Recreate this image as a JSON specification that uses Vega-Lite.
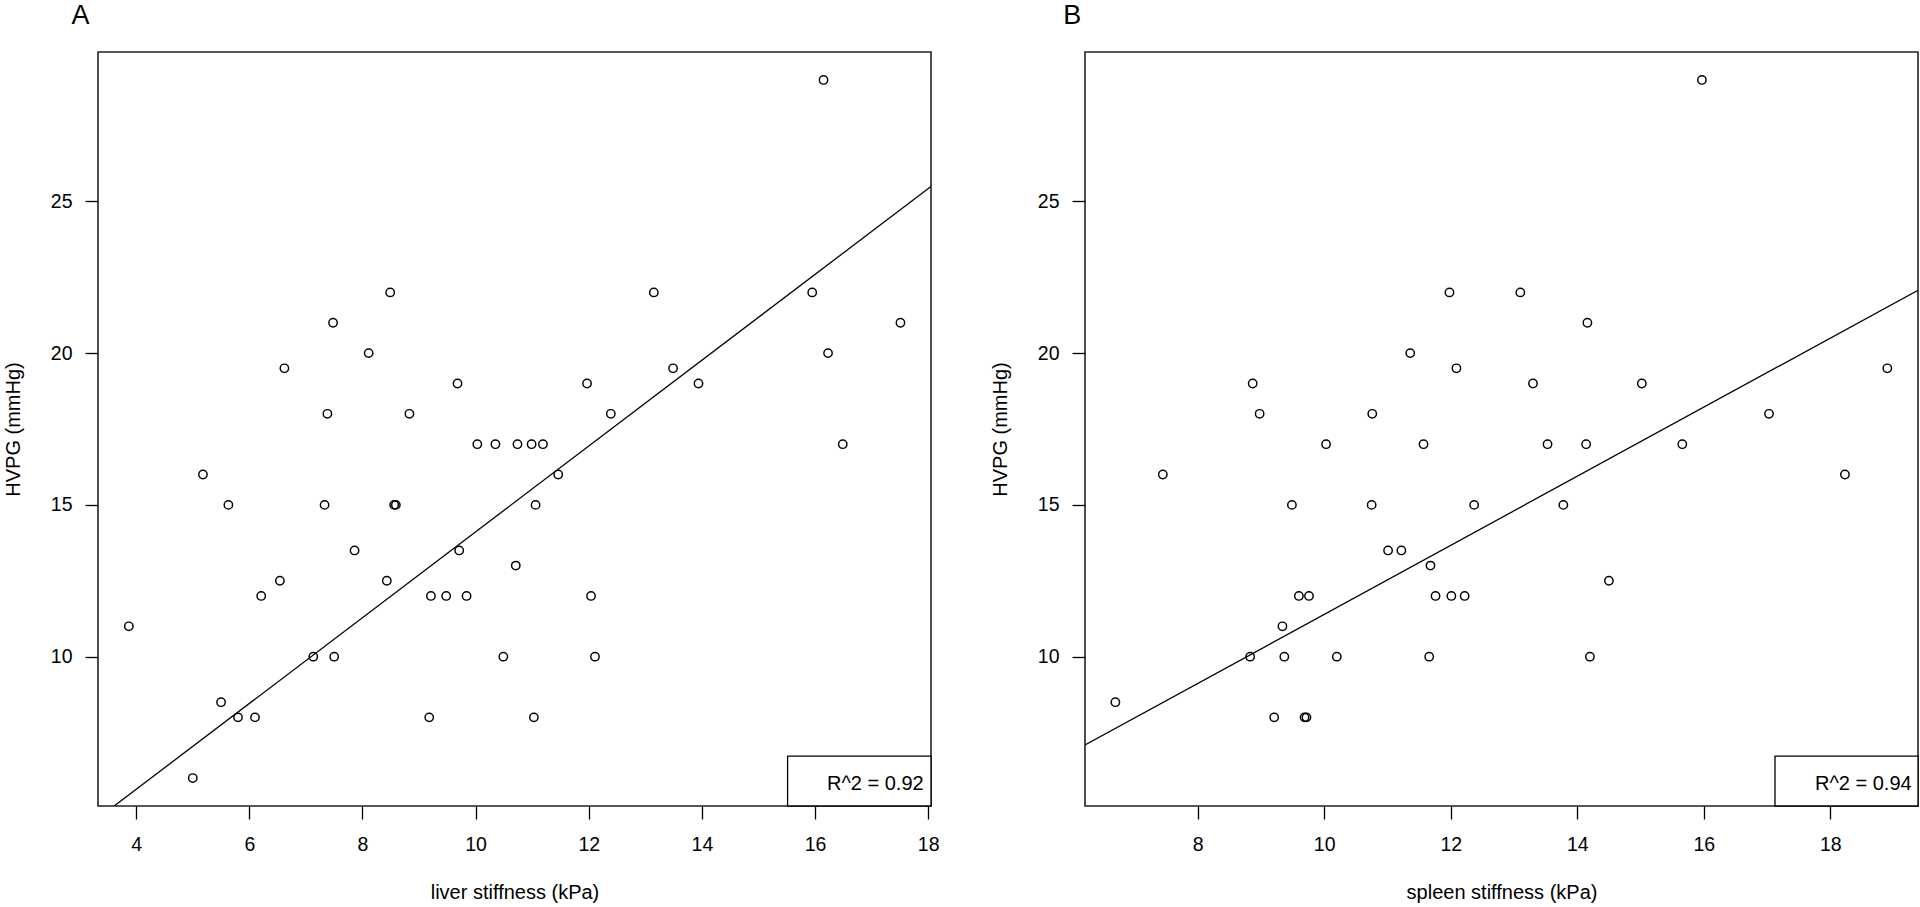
{
  "$schema": "https://vega.github.io/schema/vega-lite/v6.json",
  "background": "white",
  "autosize": {"type": "pad"},
  "padding": {"left": 2, "top": 1, "right": 0, "bottom": 0},
  "datasets": {
    "liver": [
      {"stiffness": 16.15, "hvpg": 29}, {"stiffness": 8.49, "hvpg": 22}, {"stiffness": 13.15, "hvpg": 22},
      {"stiffness": 15.95, "hvpg": 22}, {"stiffness": 7.48, "hvpg": 21}, {"stiffness": 17.51, "hvpg": 21},
      {"stiffness": 8.11, "hvpg": 20}, {"stiffness": 16.23, "hvpg": 20}, {"stiffness": 6.62, "hvpg": 19.5},
      {"stiffness": 13.49, "hvpg": 19.5}, {"stiffness": 9.68, "hvpg": 19}, {"stiffness": 11.97, "hvpg": 19},
      {"stiffness": 13.94, "hvpg": 19}, {"stiffness": 7.38, "hvpg": 18}, {"stiffness": 8.83, "hvpg": 18},
      {"stiffness": 12.39, "hvpg": 18}, {"stiffness": 10.03, "hvpg": 17}, {"stiffness": 10.35, "hvpg": 17},
      {"stiffness": 10.74, "hvpg": 17}, {"stiffness": 10.99, "hvpg": 17}, {"stiffness": 11.19, "hvpg": 17},
      {"stiffness": 16.49, "hvpg": 17}, {"stiffness": 5.18, "hvpg": 16}, {"stiffness": 11.46, "hvpg": 16},
      {"stiffness": 5.63, "hvpg": 15}, {"stiffness": 7.33, "hvpg": 15}, {"stiffness": 8.56, "hvpg": 15},
      {"stiffness": 8.59, "hvpg": 15}, {"stiffness": 11.06, "hvpg": 15}, {"stiffness": 7.86, "hvpg": 13.5},
      {"stiffness": 9.71, "hvpg": 13.5}, {"stiffness": 10.71, "hvpg": 13}, {"stiffness": 6.54, "hvpg": 12.5},
      {"stiffness": 8.43, "hvpg": 12.5}, {"stiffness": 6.21, "hvpg": 12}, {"stiffness": 9.21, "hvpg": 12},
      {"stiffness": 9.48, "hvpg": 12}, {"stiffness": 9.84, "hvpg": 12}, {"stiffness": 12.04, "hvpg": 12},
      {"stiffness": 3.87, "hvpg": 11}, {"stiffness": 7.13, "hvpg": 10}, {"stiffness": 7.5, "hvpg": 10},
      {"stiffness": 10.49, "hvpg": 10}, {"stiffness": 12.11, "hvpg": 10}, {"stiffness": 5.5, "hvpg": 8.5},
      {"stiffness": 5.8, "hvpg": 8}, {"stiffness": 6.1, "hvpg": 8}, {"stiffness": 9.18, "hvpg": 8},
      {"stiffness": 11.03, "hvpg": 8}, {"stiffness": 5.0, "hvpg": 6}
    ],
    "spleen": [
      {"stiffness": 15.97, "hvpg": 29}, {"stiffness": 11.98, "hvpg": 22}, {"stiffness": 13.1, "hvpg": 22},
      {"stiffness": 14.16, "hvpg": 21}, {"stiffness": 11.36, "hvpg": 20}, {"stiffness": 12.09, "hvpg": 19.5},
      {"stiffness": 18.9, "hvpg": 19.5}, {"stiffness": 8.87, "hvpg": 19}, {"stiffness": 13.3, "hvpg": 19},
      {"stiffness": 15.02, "hvpg": 19}, {"stiffness": 8.98, "hvpg": 18}, {"stiffness": 10.76, "hvpg": 18},
      {"stiffness": 17.03, "hvpg": 18}, {"stiffness": 10.03, "hvpg": 17}, {"stiffness": 11.57, "hvpg": 17},
      {"stiffness": 13.53, "hvpg": 17}, {"stiffness": 14.14, "hvpg": 17}, {"stiffness": 15.66, "hvpg": 17},
      {"stiffness": 7.45, "hvpg": 16}, {"stiffness": 18.23, "hvpg": 16}, {"stiffness": 9.49, "hvpg": 15},
      {"stiffness": 10.75, "hvpg": 15}, {"stiffness": 12.37, "hvpg": 15}, {"stiffness": 13.78, "hvpg": 15},
      {"stiffness": 11.01, "hvpg": 13.5}, {"stiffness": 11.22, "hvpg": 13.5}, {"stiffness": 11.68, "hvpg": 13},
      {"stiffness": 14.5, "hvpg": 12.5}, {"stiffness": 9.6, "hvpg": 12}, {"stiffness": 9.76, "hvpg": 12},
      {"stiffness": 11.76, "hvpg": 12}, {"stiffness": 12.01, "hvpg": 12}, {"stiffness": 12.22, "hvpg": 12},
      {"stiffness": 9.34, "hvpg": 11}, {"stiffness": 8.83, "hvpg": 10}, {"stiffness": 9.37, "hvpg": 10},
      {"stiffness": 10.2, "hvpg": 10}, {"stiffness": 11.66, "hvpg": 10}, {"stiffness": 14.2, "hvpg": 10},
      {"stiffness": 6.7, "hvpg": 8.5}, {"stiffness": 9.21, "hvpg": 8}, {"stiffness": 9.69, "hvpg": 8},
      {"stiffness": 9.72, "hvpg": 8}
    ],
    "liverFit": [{"stiffness": 3.325, "hvpg": 4.676}, {"stiffness": 18.05, "hvpg": 25.49}],
    "spleenFit": [{"stiffness": 6.22, "hvpg": 7.09}, {"stiffness": 19.385, "hvpg": 22.07}],
    "liverLegend": [{"stiffness": 15.515, "stiffness_end": 18.05, "hvpg": 5.08, "hvpg_end": 6.72, "label_x": 17.92, "label_y": 5.82, "label": "R^2 = 0.92"}],
    "spleenLegend": [{"stiffness": 17.125, "stiffness_end": 19.385, "hvpg": 5.08, "hvpg_end": 6.72, "label_x": 19.285, "label_y": 5.82, "label": "R^2 = 0.94"}]
  },
  "spacing": 154,
  "bounds": "flush",
  "hconcat": [
    {
      "width": 833,
      "height": 754,
      "title": {"text": "A", "dx": -26.5},
      "layer": [
        {
          "data": {"name": "liver"},
          "mark": {"type": "point", "shape": "circle", "filled": false, "color": "black", "size": 70, "strokeWidth": 1.45, "opacity": 1},
          "encoding": {
            "x": {"field": "stiffness", "type": "quantitative", "title": "liver stiffness (kPa)",
                  "scale": {"domain": [3.325, 18.05], "nice": false, "zero": false},
                  "axis": {"values": [4, 6, 8, 10, 12, 14, 16, 18], "format": "d"}},
            "y": {"field": "hvpg", "type": "quantitative", "title": "HVPG (mmHg)",
                  "scale": {"domain": [5.08, 29.92], "nice": false, "zero": false},
                  "axis": {"values": [10, 15, 20, 25], "format": "d"}}
          }
        },
        {
          "data": {"name": "liverFit"},
          "mark": {"type": "line", "color": "black", "strokeWidth": 1.3, "clip": true},
          "encoding": {
            "x": {"field": "stiffness", "type": "quantitative", "title": "liver stiffness (kPa)"},
            "y": {"field": "hvpg", "type": "quantitative", "title": "HVPG (mmHg)"}
          }
        },
        {
          "data": {"name": "liverLegend"},
          "mark": {"type": "rect", "fill": "white", "stroke": "black", "strokeWidth": 1.3},
          "encoding": {
            "x": {"field": "stiffness", "type": "quantitative", "title": "liver stiffness (kPa)"},
            "x2": {"field": "stiffness_end"},
            "y": {"field": "hvpg", "type": "quantitative", "title": "HVPG (mmHg)"},
            "y2": {"field": "hvpg_end"}
          }
        },
        {
          "data": {"name": "liverLegend"},
          "mark": {"type": "text", "align": "right", "baseline": "middle", "fontSize": 20, "color": "black"},
          "encoding": {
            "x": {"field": "label_x", "type": "quantitative", "title": "liver stiffness (kPa)"},
            "y": {"field": "label_y", "type": "quantitative", "title": "HVPG (mmHg)"},
            "text": {"field": "label"}
          }
        }
      ]
    },
    {
      "width": 833,
      "height": 754,
      "title": {"text": "B", "dx": -21.8},
      "layer": [
        {
          "data": {"name": "spleen"},
          "mark": {"type": "point", "shape": "circle", "filled": false, "color": "black", "size": 70, "strokeWidth": 1.45, "opacity": 1},
          "encoding": {
            "x": {"field": "stiffness", "type": "quantitative", "title": "spleen stiffness (kPa)",
                  "scale": {"domain": [6.22, 19.385], "nice": false, "zero": false},
                  "axis": {"values": [8, 10, 12, 14, 16, 18], "format": "d"}},
            "y": {"field": "hvpg", "type": "quantitative", "title": "HVPG (mmHg)",
                  "scale": {"domain": [5.08, 29.92], "nice": false, "zero": false},
                  "axis": {"values": [10, 15, 20, 25], "format": "d"}}
          }
        },
        {
          "data": {"name": "spleenFit"},
          "mark": {"type": "line", "color": "black", "strokeWidth": 1.3, "clip": true},
          "encoding": {
            "x": {"field": "stiffness", "type": "quantitative", "title": "spleen stiffness (kPa)"},
            "y": {"field": "hvpg", "type": "quantitative", "title": "HVPG (mmHg)"}
          }
        },
        {
          "data": {"name": "spleenLegend"},
          "mark": {"type": "rect", "fill": "white", "stroke": "black", "strokeWidth": 1.3},
          "encoding": {
            "x": {"field": "stiffness", "type": "quantitative", "title": "spleen stiffness (kPa)"},
            "x2": {"field": "stiffness_end"},
            "y": {"field": "hvpg", "type": "quantitative", "title": "HVPG (mmHg)"},
            "y2": {"field": "hvpg_end"}
          }
        },
        {
          "data": {"name": "spleenLegend"},
          "mark": {"type": "text", "align": "right", "baseline": "middle", "fontSize": 20, "color": "black"},
          "encoding": {
            "x": {"field": "label_x", "type": "quantitative", "title": "spleen stiffness (kPa)"},
            "y": {"field": "label_y", "type": "quantitative", "title": "HVPG (mmHg)"},
            "text": {"field": "label"}
          }
        }
      ]
    }
  ],
  "config": {
    "font": "Liberation Sans",
    "view": {"stroke": "#222222", "strokeWidth": 1.6},
    "title": {"anchor": "start", "frame": "group", "fontSize": 27, "fontWeight": "normal", "color": "black", "baseline": "alphabetic", "offset": 22},
    "axis": {
      "grid": false,
      "domain": false,
      "tickColor": "black",
      "tickWidth": 1.3,
      "tickSize": 13,
      "labelFontSize": 19.5,
      "labelColor": "black",
      "titleFontSize": 20,
      "titleFontWeight": "normal",
      "titleColor": "black",
      "labelOverlap": false,
      "labelFlush": false
    },
    "axisX": {"labelPadding": 16, "labelBaseline": "top", "titleY": 92, "titleBaseline": "alphabetic"},
    "axisY": {"labelAngle": 0, "labelPadding": 13, "titlePadding": 27, "labelAlign": "right", "labelBaseline": "middle"},
    "text": {"font": "Liberation Sans"}
  }
}
